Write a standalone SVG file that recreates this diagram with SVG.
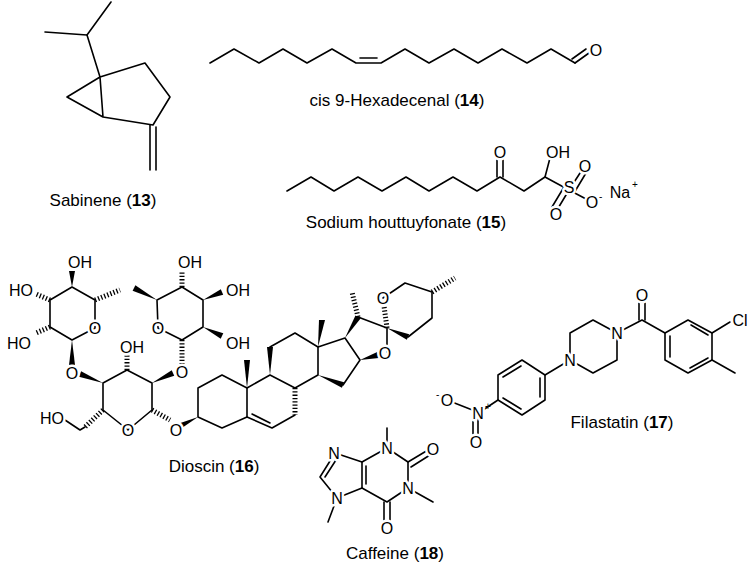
<svg xmlns="http://www.w3.org/2000/svg" width="749" height="567" viewBox="0 0 749 567">
<style>
.b{stroke:#000;stroke-width:1.6;fill:none;stroke-linecap:round;stroke-linejoin:round}
.h{stroke:#000;stroke-width:5;fill:none;stroke-dasharray:1.3 2}
.w{fill:#000;stroke:none}
text{font-family:"Liberation Sans",Arial,sans-serif;fill:#000}
.a{font-size:16px;text-anchor:middle;stroke:#fff;stroke-width:5;paint-order:stroke;stroke-linejoin:round}
.s{font-size:10px;stroke:none}
.l{font-size:17px;text-anchor:middle}
</style>
<rect width="749" height="567" fill="#fff"/>
<g id="sabinene">
<polyline class="b" points="45,32 87,35 111,2"/>
<polyline class="b" points="87,35 100,77 145,63 170,97 153,125 103,117 100,77 67,97 103,117"/>
<line class="b" x1="150" y1="125" x2="150" y2="170"/><line class="b" x1="156" y1="127" x2="156" y2="170"/>
<text class="l" x="103" y="206">Sabinene (<tspan font-weight="bold">13</tspan>)</text>
</g>
<g id="hexadecenal">
<polyline class="b" points="210,63 234,49 259,63 283,49 307,63 332,49 356,63 381,63 405,49 429,63 454,49 478,63 502,49 527,63 551,49 575,63"/>
<line class="b" x1="360" y1="58" x2="377" y2="58"/>
<line class="b" x1="575" y1="63" x2="589" y2="53"/><line class="b" x1="572" y1="59" x2="586" y2="49"/>
<text class="a" x="596" y="56">O</text>
<text class="l" x="397" y="106">cis 9-Hexadecenal (<tspan font-weight="bold">14</tspan>)</text>
</g>
<g id="houttuyfonate">
<polyline class="b" points="287,191 311,177 334,191 358,177 382,191 406,177 429,191 453,177 477,191 500,177 524,191 545,177 569,190"/>
<line class="b" x1="497" y1="177" x2="497" y2="158"/><line class="b" x1="503" y1="177" x2="503" y2="158"/>
<line class="b" x1="545" y1="177" x2="550" y2="158"/>
<line class="b" x1="569" y1="190" x2="582" y2="170"/><line class="b" x1="574" y1="193" x2="586" y2="173"/>
<line class="b" x1="569" y1="190" x2="557" y2="210"/><line class="b" x1="564" y1="187" x2="552" y2="207"/>
<line class="b" x1="569" y1="190" x2="588" y2="200"/>
<text class="a" x="500" y="158">O</text>
<text class="a" x="558" y="158">OH</text>
<text class="a" x="569" y="193">S</text>
<text class="a" x="585" y="172">O</text>
<text class="a" x="556" y="220">O</text>
<text class="a" x="592" y="208">O</text><text class="s" x="599" y="200">-</text>
<text class="a" x="620" y="198">Na</text><text class="s" x="632" y="188">+</text>
<text class="l" x="406" y="228">Sodium houttuyfonate (<tspan font-weight="bold">15</tspan>)</text>
</g>
<g id="dioscin">
<polygon class="b" points="72,287 95,300 95,328 72,340 50,327 50,300"/>
<polygon class="b" points="157,300 182,287 203,300 203,327 182,340 158,328"/>
<polygon class="b" points="103,383 127,370 152,383 152,410 128,430 103,410"/>
<polyline class="b" points="85,427 80,430 65,420"/>
<polygon class="w" points="72,287 69,271 75,271"/>
<polygon class="w" points="72,340 69,365 75,365"/>
<polygon class="w" points="157,300 135.4,285.35 132.6,290.65"/>
<polygon class="w" points="203,300 223.2,294.8 220.8,289.2"/>
<polygon class="w" points="203,327 220.7,338.7 223.3,333.3"/>
<polygon class="w" points="103,383 81.1,371.2 78.9,376.8"/>
<polygon class="w" points="152,383 174.3,375.7 171.7,370.3"/>
<polygon class="w" points="198,417 179.3,429.7 176.7,424.3"/>
<line class="h" x1="50" y1="300" x2="36" y2="294"/>
<line class="h" x1="50" y1="327" x2="36" y2="333"/>
<line class="h" x1="95" y1="300" x2="120" y2="290"/>
<line class="h" x1="182" y1="287" x2="182" y2="271"/>
<line class="h" x1="182" y1="340" x2="182" y2="364"/>
<line class="h" x1="127" y1="370" x2="127" y2="353"/>
<line class="h" x1="152" y1="410" x2="170" y2="420"/>
<line class="h" x1="103" y1="410" x2="85" y2="427"/>
<polygon class="b" points="198,388 222,375 247,388 247,417 222,428 198,417"/>
<polyline class="b" points="247,388 270,375 295,388 318,375 318,347 295,333 270,347"/>
<polyline class="b" points="295,415 272,428 247,417"/>
<line class="b" x1="252" y1="414" x2="270" y2="423"/>
<line class="h" x1="295" y1="388" x2="295" y2="415"/>
<polygon class="w" points="247,388 244,360 250,360"/>
<polygon class="w" points="270,375 267,347 273,347"/>
<polygon class="w" points="318,347 319,320 325,320"/>
<polygon class="w" points="318,375 341.9,387.8 344.1,382.2"/>
<polyline class="b" points="318,347 345,338 360,360 343,385"/>
<polygon class="w" points="360,360 378.8,357.9 377.2,352.1"/>
<polygon class="w" points="345,338 360.55,318.58 355.45,315.42"/>
<line class="h" x1="358" y1="317" x2="352" y2="292"/>
<polyline class="b" points="358,317 387,328 387,352"/>
<line class="h" x1="387" y1="328" x2="384" y2="306"/>
<polygon class="w" points="387,328 406.8,339.8 409.2,334.2"/>
<polyline class="b" points="383,298 405,283 432,292 432,318 408,337"/>
<line class="h" x1="432" y1="292" x2="455" y2="278"/>
<text class="a" x="80" y="268">OH</text>
<text class="a" x="21" y="296">HO</text>
<text class="a" x="19" y="349">HO</text>
<text class="a" x="95" y="334">O</text>
<text class="a" x="72" y="379">O</text>
<text class="a" x="158" y="334">O</text>
<text class="a" x="190" y="268">OH</text>
<text class="a" x="238" y="296">OH</text>
<text class="a" x="238" y="349">OH</text>
<text class="a" x="182" y="378">O</text>
<text class="a" x="132" y="353">OH</text>
<text class="a" x="128" y="436">O</text>
<text class="a" x="176" y="436">O</text>
<text class="a" x="52" y="424">HO</text>
<text class="a" x="385" y="359">O</text>
<text class="a" x="383" y="304">O</text>
<text class="l" x="214" y="472">Dioscin (<tspan font-weight="bold">16</tspan>)</text>
</g>
<g id="filastatin">
<polygon class="b" points="570,360 570,333 593,320 617,333 617,360 593,373"/>
<polyline class="b" points="617,333 642,320 665,333"/>
<line class="b" x1="639" y1="320" x2="639" y2="300"/><line class="b" x1="645" y1="320" x2="645" y2="300"/>
<polygon class="b" points="665,333 688,320 712,333 712,360 688,373 665,360"/>
<line class="b" x1="670" y1="357" x2="670" y2="336"/><line class="b" x1="691" y1="325" x2="708" y2="335"/><line class="b" x1="708" y1="358" x2="690" y2="368"/>
<line class="b" x1="712" y1="333" x2="730" y2="322"/>
<line class="b" x1="712" y1="360" x2="735" y2="373"/>
<line class="b" x1="570" y1="360" x2="545" y2="375"/>
<polygon class="b" points="545,375 522,360 498,375 498,400 522,415 545,400"/>
<line class="b" x1="540" y1="378" x2="540" y2="397"/><line class="b" x1="521" y1="366" x2="503" y2="377"/><line class="b" x1="503" y1="398" x2="521" y2="409"/>
<line class="b" x1="498" y1="400" x2="483" y2="410"/>
<line class="b" x1="480" y1="413" x2="452" y2="402"/>
<line class="b" x1="473" y1="416" x2="473" y2="435"/><line class="b" x1="478" y1="416" x2="478" y2="435"/>
<text class="a" x="570" y="366">N</text>
<text class="a" x="617" y="339">N</text>
<text class="a" x="642" y="301">O</text>
<text class="a" x="740" y="326">Cl</text>
<text class="a" x="478" y="419">N</text><text class="s" x="485" y="410">+</text>
<text class="a" x="447" y="406">O</text><text class="s" x="436" y="398">-</text>
<text class="a" x="476" y="448">O</text>
<text class="l" x="622" y="428">Filastatin (<tspan font-weight="bold">17</tspan>)</text>
</g>
<g id="caffeine">
<polygon class="b" points="387,448 408,462 408,488 387,502 362,488 362,462"/>
<polyline class="b" points="362,462 335,453 320,477 337,498 362,488"/>
<line class="b" x1="366" y1="466" x2="366" y2="484"/>
<line class="b" x1="325" y1="477" x2="336" y2="460"/>
<line class="b" x1="387" y1="448" x2="387" y2="428"/>
<line class="b" x1="408" y1="462" x2="428" y2="450"/><line class="b" x1="411" y1="467" x2="430" y2="455"/>
<line class="b" x1="408" y1="488" x2="433" y2="502"/>
<line class="b" x1="384" y1="502" x2="384" y2="522"/><line class="b" x1="390" y1="502" x2="390" y2="522"/>
<line class="b" x1="337" y1="498" x2="328" y2="522"/>
<text class="a" x="387" y="454">N</text>
<text class="a" x="408" y="494">N</text>
<text class="a" x="337" y="504">N</text>
<text class="a" x="334" y="459">N</text>
<text class="a" x="433" y="455">O</text>
<text class="a" x="387" y="534">O</text>
<text class="l" x="395" y="559">Caffeine (<tspan font-weight="bold">18</tspan>)</text>
</g>
</svg>
